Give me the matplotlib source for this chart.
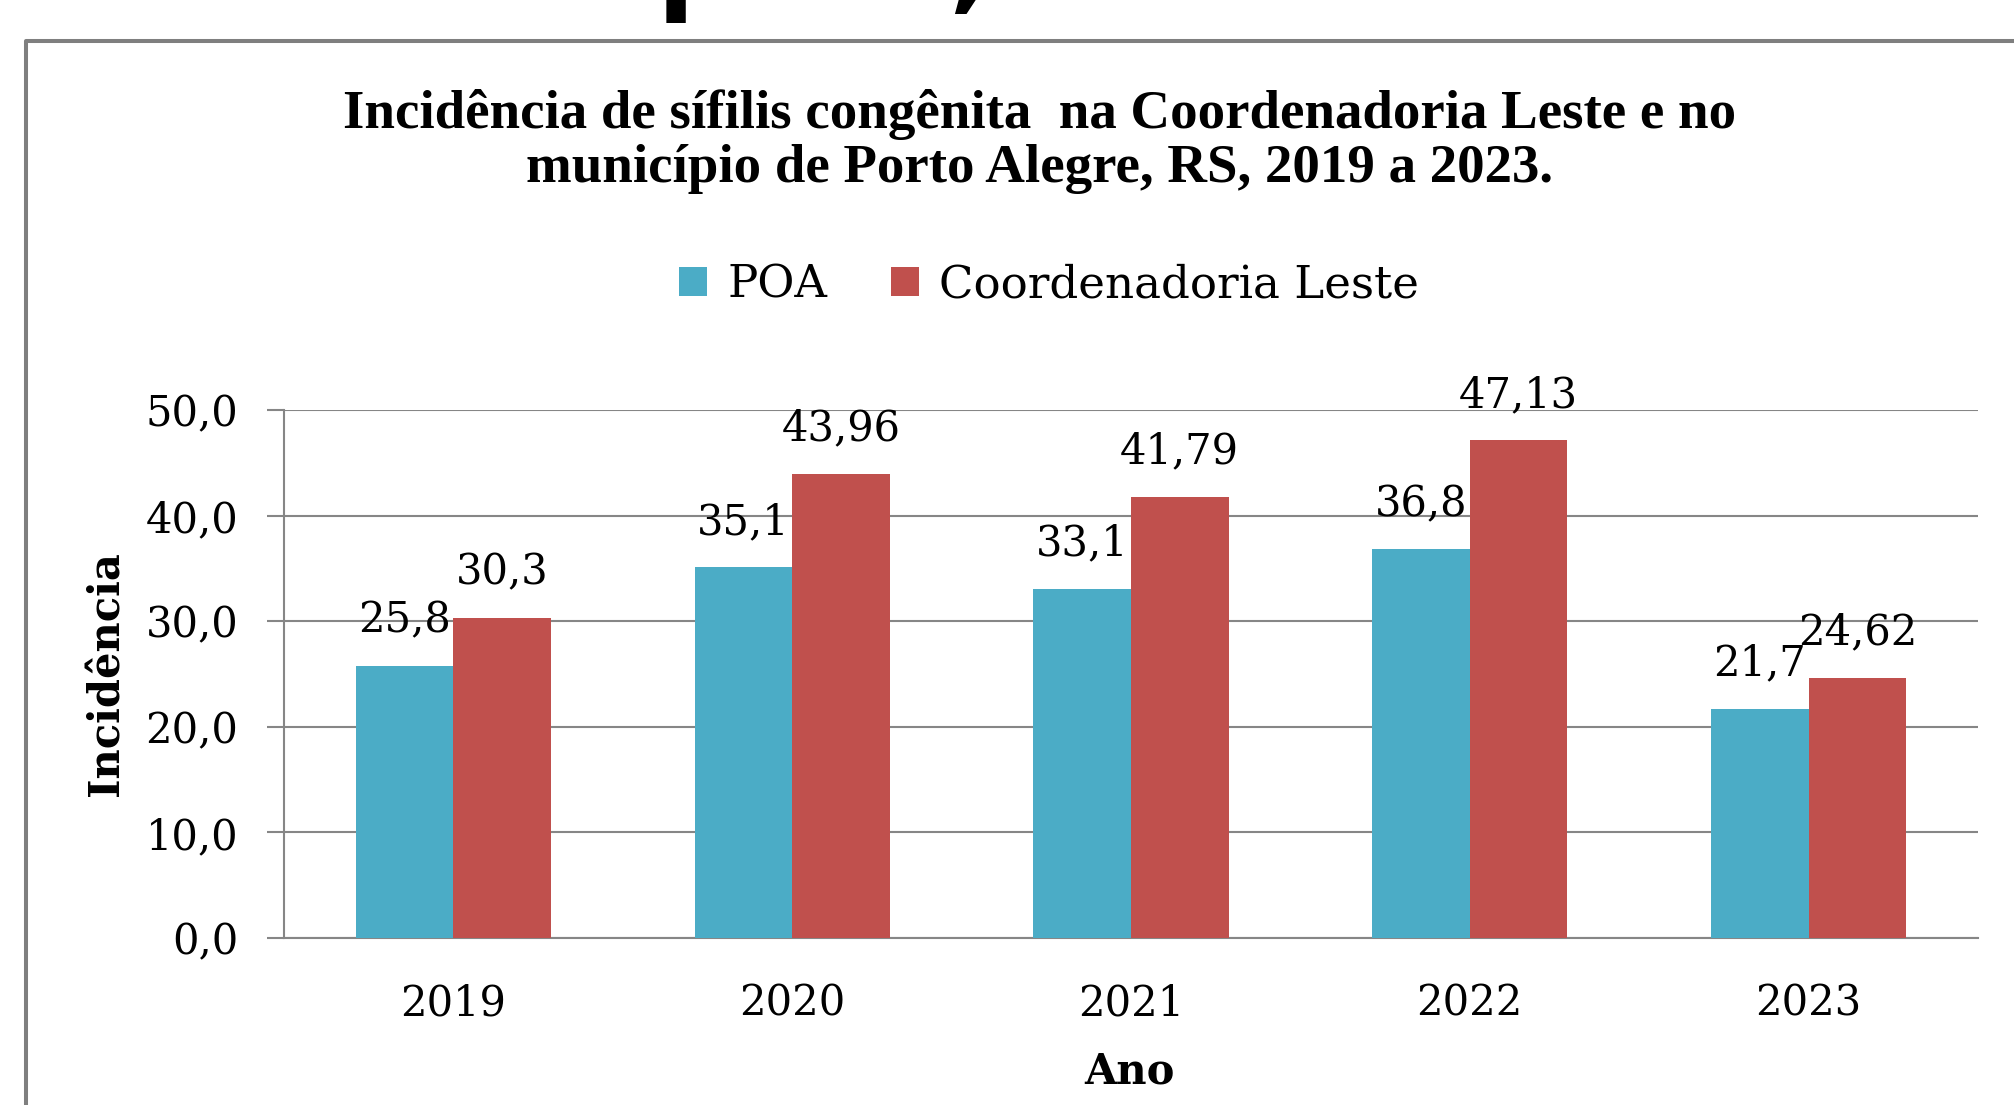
import numpy as np
import matplotlib.pyplot as plt
from matplotlib.lines import Line2D
from matplotlib.transforms import Bbox, TransformedBbox

anos = ['2019', '2020', '2021', '2022', '2023']
poa = [25.8, 35.1, 33.1, 36.8, 21.7]
leste = [30.3, 43.96, 41.79, 47.13, 24.62]
yticks = [0, 10, 20, 30, 40, 50]

cor_poa = '#4BACC6'
cor_leste = '#C0504D'
cinza = '#868686'
serif = ['DejaVu Serif']

fig = plt.figure(figsize=(20.14, 11.05), dpi=100)
ax = fig.add_axes([0.1410, 0.1511, 0.8411, 0.4778])

x = np.arange(len(anos))
w = 0.288
b1 = ax.bar(x - w/2, poa, w, color=cor_poa, label='POA', zorder=3)
b2 = ax.bar(x + w/2, leste, w, color=cor_leste, label='Coordenadoria Leste', zorder=3)

# rotulos de dados, virgula decimal
for bars, vals in [(b1, poa), (b2, leste)]:
    for r, v in zip(bars, vals):
        ax.annotate(str(v).replace('.', ','), (r.get_x() + r.get_width()/2, v),
                    xytext=(0, 24), textcoords='offset points',
                    ha='center', va='baseline', fontsize=30, family=serif, zorder=5)

ax.set_xlim(-0.5, len(anos) - 0.5)
ax.set_ylim(0, 50)
ax.set_yticks(yticks)
ax.set_yticklabels([f'{t:.1f}'.replace('.', ',') for t in yticks], fontsize=30, family=serif)
ax.set_xticks(x)
ax.set_xticklabels(anos, fontsize=30, family=serif)
ax.tick_params(axis='x', length=0, pad=32)
ax.tick_params(axis='y', length=12, width=1.5, color=cinza, pad=21)
ax.yaxis.grid(True, color=cinza, linewidth=1.5)
ax.set_axisbelow(True)
for s in ['top', 'right']:
    ax.spines[s].set_visible(False)
for s in ['left', 'bottom']:
    ax.spines[s].set_color(cinza)
    ax.spines[s].set_linewidth(1.5)

fig.text(0.516, 0.872,
         'Incidência de sífilis congênita  na Coordenadoria Leste e no\nmunicípio de Porto Alegre, RS, 2019 a 2023.',
         ha='center', va='center', fontsize=39.5, fontweight='bold',
         family=['Liberation Serif'], linespacing=1.12)

fig.legend(loc='center', bbox_to_anchor=(0.521, 0.742), ncol=2, frameon=False,
           prop={'family': serif, 'size': 32.5},
           handlelength=0.62, handleheight=0.62, handletextpad=0.45, columnspacing=1.4)

fig.text(0.053, 0.39, 'Incidência', rotation=90, ha='center', va='center',
         fontsize=30, fontweight='bold', family=serif)
fig.text(0.561, 0.030, 'Ano', ha='center', va='center',
         fontsize=30, fontweight='bold', family=serif)

# moldura cinza (cortada a direita e embaixo)
fig.add_artist(Line2D([0.0129, 0.0129, 1.0], [0.0, 0.963, 0.963],
                      transform=fig.transFigure, color='#7F7F7F', linewidth=2.9))

# restos de texto cortado no topo da imagem (so a haste do p e a virgula)
t1 = fig.text(657/2014, 1.0, 'p', ha='left', va='baseline', fontsize=80,
              fontweight='bold', family=['DejaVu Sans'], clip_on=True)
t1.set_clip_box(TransformedBbox(Bbox([[655/2014, 0.97], [687/2014, 1.0]]), fig.transFigure))
fig.text(948/2014, 1.0 + 2/1105, ',', ha='left', va='baseline', fontsize=80,
         fontweight='bold', family=['DejaVu Sans'])

fig.savefig('out.png', dpi=100, facecolor='white')
